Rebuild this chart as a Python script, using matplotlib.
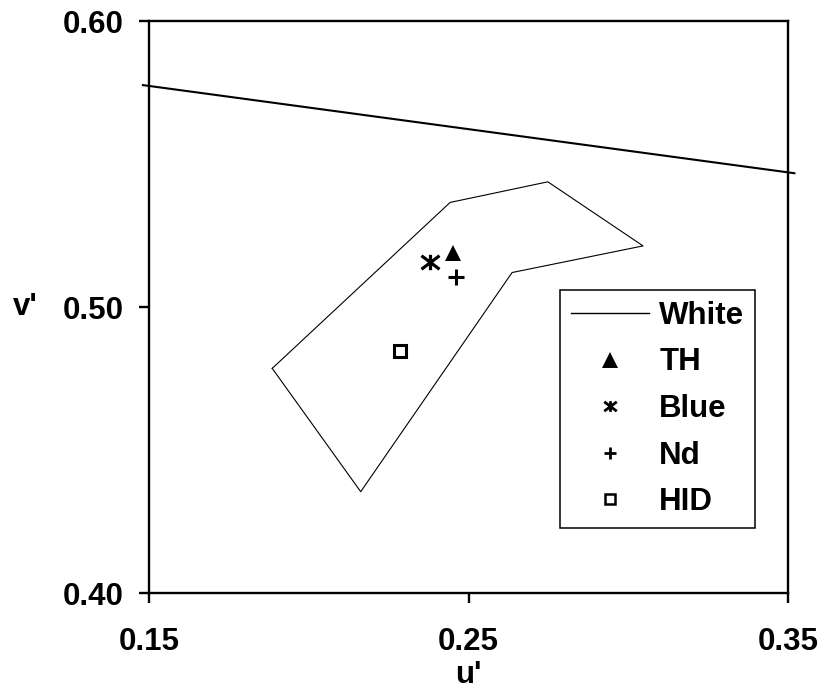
import matplotlib
matplotlib.use("Agg")
import matplotlib.pyplot as plt
from matplotlib.path import Path
from matplotlib.lines import Line2D

plt.rcParams['font.family'] = ['Liberation Sans', 'DejaVu Sans']
plt.rcParams['font.weight'] = 'bold'

FS = 22.5

# White region boundary (u', v')
white_u = [0.148, 0.352]
white_v = [0.5776, 0.5468]

# Tolerance polygon in u'v' space
region_u = [0.1885, 0.2442, 0.2748, 0.3046, 0.2636, 0.2162, 0.1885]
region_v = [0.4786, 0.5366, 0.5438, 0.5214, 0.5121, 0.4355, 0.4786]

# Lamp chromaticities
lamp_names = ["TH", "Blue", "Nd", "HID"]
lamp_u = [0.2451, 0.2379, 0.2461, 0.2285]
lamp_v = [0.5189, 0.5157, 0.5106, 0.4848]

x_ticks = [0.15, 0.25, 0.35]
y_ticks = [0.40, 0.50, 0.60]

# asterisk: an X crossed by a vertical bar
star = Path(
    [(-1.0, -0.75), (1.0, 0.75), (-1.0, 0.75), (1.0, -0.75), (0.0, -0.85), (0.0, 0.85)],
    [Path.MOVETO, Path.LINETO, Path.MOVETO, Path.LINETO, Path.MOVETO, Path.LINETO],
)

styles = {
    "TH":   dict(marker="^", ms=11.5, mew=0, mfc="black", mec="black"),
    "Blue": dict(marker=star, ms=13, mew=2.3, mfc="none", mec="black"),
    "Nd":   dict(marker="+", ms=11, mew=2.2, mfc="none", mec="black"),
    "HID":  dict(marker="s", ms=8.7, mew=2.2, mfc="none", mec="black"),
}
legend_styles = {
    "TH":   dict(marker="^", ms=11.5, mew=0, mfc="black", mec="black"),
    "Blue": dict(marker=star, ms=9, mew=2.0, mfc="none", mec="black"),
    "Nd":   dict(marker="+", ms=8.5, mew=2.0, mfc="none", mec="black"),
    "HID":  dict(marker="s", ms=6.5, mew=1.8, mfc="none", mec="black"),
}

fig = plt.figure(figsize=(8.23, 6.96), dpi=100)
ax = fig.add_axes([0.1814, 0.1476, 0.9575 - 0.1814, 0.9698 - 0.1476])

ax.plot(white_u, white_v, color="black", lw=1.5, clip_on=False, zorder=3)
ax.plot(region_u, region_v, color="black", lw=0.8, zorder=2)

for name, u, v in zip(lamp_names, lamp_u, lamp_v):
    ax.plot([u], [v], linestyle="none", zorder=4, **styles[name])

ax.set_xlim(0.15, 0.35)
ax.set_ylim(0.40, 0.60)
ax.set_xticks(x_ticks)
ax.set_yticks(y_ticks)
ax.set_xticklabels([f"{t:.2f}" for t in x_ticks])
ax.set_yticklabels([f"{t:.2f}" for t in y_ticks])

for s in ax.spines.values():
    s.set_linewidth(1.7)
ax.tick_params(axis="both", direction="out", length=7.5, width=1.7,
               labelsize=FS)
ax.tick_params(axis="x", pad=17)
ax.tick_params(axis="y", pad=11)
for lbl in ax.get_xticklabels() + ax.get_yticklabels():
    lbl.set_fontweight("bold")

ax.set_xlabel("u'", fontsize=FS, fontweight="bold", labelpad=2)
ax.set_ylabel("v'", fontsize=FS, fontweight="bold", rotation=0,
              labelpad=27, va="center")

handles = [Line2D([], [], color="black", lw=1.0)]
for name in lamp_names:
    handles.append(Line2D([], [], linestyle="none", **legend_styles[name]))
labels = ["White"] + lamp_names

leg = ax.legend(handles, labels, loc="upper left",
                bbox_to_anchor=(0.643, 0.530), borderaxespad=0,
                frameon=True, fancybox=False, edgecolor="black",
                framealpha=1, handlelength=2.5,
                handletextpad=0.33, borderpad=0.35, labelspacing=0.53,
                prop={"weight": "bold", "size": FS})
leg.get_frame().set_linewidth(1.1)

fig.savefig("out.png", dpi=100, facecolor="white")
